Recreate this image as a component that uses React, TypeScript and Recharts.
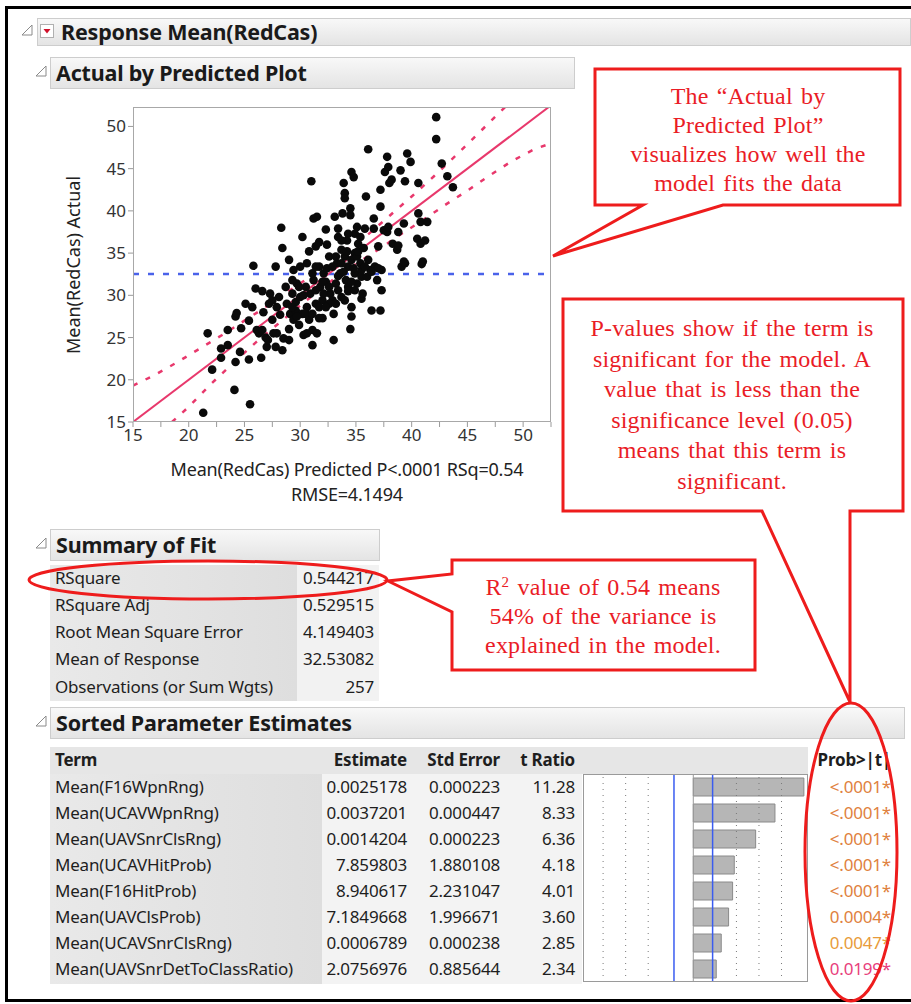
import React from 'react';
import { ScatterChart, Scatter, XAxis, YAxis, ReferenceLine, BarChart, Bar } from 'recharts';

const W = 911;
const H = 1004;
const UI = '"Noto Sans", "Open Sans", sans-serif';
const SERIF = '"Liberation Serif", "DejaVu Serif", serif';
const PINK = '#e8386c';
const BLUE = '#4a62ea';
const RED = '#ee1c1c';

// [predicted, actual]
const points: [number, number][] = [
  [21.3, 16.1], [21.7, 25.5], [22.1, 21.2], [22.9, 22.6], [22.9, 23.7], [23.5, 24.1], [23.5, 25.9], [24.1, 18.8],
  [24.2, 22.1], [24.2, 27.5], [24.3, 27.9], [24.6, 23.3], [24.7, 26.1], [25.1, 29.0], [25.4, 22.4], [25.5, 17.1],
  [25.4, 27.0], [25.8, 33.5], [25.7, 28.6], [26.0, 30.8], [26.1, 25.9], [26.3, 25.5], [26.5, 22.6], [26.6, 30.5],
  [26.7, 28.0], [26.9, 25.0], [27.0, 23.9], [27.2, 29.0], [27.3, 30.2], [27.5, 27.1], [27.6, 25.5], [27.8, 33.4],
  [27.8, 23.9], [27.9, 28.6], [28.1, 29.8], [28.2, 27.7], [28.3, 38.0], [28.4, 35.6], [28.4, 23.5], [28.5, 24.9],
  [28.7, 31.0], [28.8, 29.0], [29.0, 34.2], [29.0, 26.0], [29.1, 27.8], [29.3, 30.2], [29.4, 33.0], [29.4, 27.1],
  [29.6, 29.2], [29.6, 28.2], [29.7, 31.4], [29.9, 26.5], [30.0, 33.4], [30.0, 29.8], [30.2, 36.9], [30.2, 27.8],
  [30.3, 25.3], [30.5, 31.0], [30.6, 33.8], [30.6, 28.6], [30.8, 27.1], [30.8, 35.2], [30.9, 30.2], [31.0, 43.5],
  [31.1, 24.1], [31.1, 25.9], [31.2, 31.8], [31.2, 39.1], [31.4, 35.8], [31.4, 29.0], [31.5, 39.3], [31.5, 25.5],
  [31.7, 33.4], [31.7, 27.3], [31.7, 36.3], [31.8, 31.0], [32.0, 29.4], [32.0, 27.3], [32.1, 32.6], [32.3, 37.8],
  [32.3, 31.6], [32.4, 36.0], [32.6, 34.6], [32.7, 30.2], [32.9, 29.4], [33.0, 24.7], [33.0, 27.8], [33.1, 39.3],
  [33.2, 31.4], [33.3, 33.8], [33.4, 36.9], [33.4, 37.9], [33.6, 32.6], [33.7, 35.4], [33.7, 29.8], [33.8, 39.7],
  [33.9, 43.3], [34.0, 42.1], [34.0, 41.5], [34.0, 34.6], [34.1, 31.8], [34.2, 36.5], [34.3, 31.0], [34.3, 33.4],
  [34.5, 40.3], [34.5, 39.5], [34.5, 26.0], [34.6, 27.5], [34.6, 28.6], [34.6, 44.6], [34.8, 44.0], [34.9, 37.3],
  [34.9, 35.0], [34.9, 32.6], [35.1, 31.4], [35.1, 38.1], [35.2, 36.1], [35.4, 33.8], [35.5, 29.6], [35.5, 32.2],
  [35.6, 30.2], [35.8, 37.9], [35.9, 41.7], [36.1, 47.3], [36.1, 34.2], [36.3, 33.0], [36.4, 28.2], [36.6, 39.1],
  [36.6, 37.9], [36.7, 33.4], [36.9, 31.8], [37.2, 28.2], [37.2, 40.5], [37.2, 42.5], [37.3, 30.6], [37.3, 33.0],
  [37.5, 37.7], [37.6, 44.6], [37.8, 46.4], [37.8, 37.5], [37.9, 45.2], [38.0, 43.3], [38.2, 43.7], [38.3, 36.1],
  [38.7, 35.4], [38.8, 37.5], [39.0, 44.8], [39.1, 33.4], [39.3, 38.5], [39.4, 43.5], [39.4, 33.8], [39.6, 46.8],
  [39.9, 45.8], [40.5, 36.7], [40.6, 43.3], [40.6, 39.7], [40.8, 38.7], [40.8, 36.1], [40.9, 33.7], [41.2, 36.5],
  [41.4, 38.7], [42.2, 51.1], [42.2, 48.5], [42.7, 45.6], [43.2, 44.1], [43.7, 42.8],
  [29.3, 31.8], [29.9, 31.0], [30.3, 30.0], [31.1, 32.6], [31.4, 30.6], [32.0, 31.6], [32.4, 33.2], [32.6, 29.0],
  [33.2, 34.6], [33.4, 32.3], [33.7, 33.8], [33.9, 32.8], [34.2, 35.2], [34.3, 30.5], [34.6, 34.2], [34.8, 33.2],
  [35.1, 34.6], [35.2, 35.2], [35.4, 36.9], [35.5, 33.0], [35.7, 35.6], [35.8, 33.4], [36.0, 32.2], [26.6, 25.9],
  [27.1, 24.7], [27.5, 29.4], [27.9, 25.5], [29.0, 24.7], [29.3, 28.6], [29.7, 27.5], [30.5, 27.8], [30.6, 25.5],
  [31.1, 27.8], [31.4, 33.4], [31.7, 28.6], [32.1, 30.2], [32.3, 28.6], [32.6, 31.0], [32.9, 33.4], [33.2, 29.0],
  [33.4, 30.6], [33.7, 36.5], [34.0, 29.4], [34.3, 37.3], [34.6, 31.6], [34.9, 30.6], [37.0, 35.8], [37.0, 33.2],
  [36.4, 32.8], [37.9, 38.1], [38.8, 35.9], [41.0, 34.0], [39.3, 34.0],
];

const fitLine: [number, number][] = [[15, 15], [52.5, 52.5]];
const upperBand: [number, number][] = [
  [15, 19.3], [17, 20.6], [19, 22.1], [21, 23.7], [23, 25.3], [25, 27.0], [27, 28.7], [29, 30.5], [31, 32.3],
  [32.5, 33.6], [34, 35.1], [36, 37.1], [38, 39.4], [40, 41.7], [42, 44.1], [44, 46.6], [46, 49.2], [48, 51.8], [48.4, 52.3],
];
const lowerBand: [number, number][] = [
  [18.5, 15], [20, 16.8], [22, 19.5], [24, 22.0], [26, 24.4], [28, 26.6], [30, 28.8], [32, 30.9], [33.5, 32.4],
  [35, 33.7], [37, 35.4], [39, 37.2], [41, 38.9], [43, 40.7], [45, 42.4], [47, 44.2], [49, 45.9], [51, 47.3], [52.5, 48.0],
];
const responseMean = 32.53082;
const xTicks = [15, 17.5, 20, 22.5, 25, 27.5, 30, 32.5, 35, 37.5, 40, 42.5, 45, 47.5, 50, 52.5];
const yTicks = [15, 20, 25, 30, 35, 40, 45, 50];

const fitLabels = ['RSquare', 'RSquare Adj', 'Root Mean Square Error', 'Mean of Response', 'Observations (or Sum Wgts)'];
const fitValues = ['0.544217', '0.529515', '4.149403', '32.53082', '257'];

const terms = [
  'Mean(F16WpnRng)', 'Mean(UCAVWpnRng)', 'Mean(UAVSnrClsRng)', 'Mean(UCAVHitProb)',
  'Mean(F16HitProb)', 'Mean(UAVClsProb)', 'Mean(UCAVSnrClsRng)', 'Mean(UAVSnrDetToClassRatio)',
];
const estimates = ['0.0025178', '0.0037201', '0.0014204', '7.859803', '8.940617', '7.1849668', '0.0006789', '2.0756976'];
const stdErrors = ['0.000223', '0.000447', '0.000223', '1.880108', '2.231047', '1.996671', '0.000238', '0.885644'];
const tRatios = [11.28, 8.33, 6.36, 4.18, 4.01, 3.6, 2.85, 2.34];
const probs = ['<.0001*', '<.0001*', '<.0001*', '<.0001*', '<.0001*', '0.0004*', '0.0047*', '0.0199*'];
const tCritical = 1.97;
const tGrid = [-9.2, -6.9, -4.6, 4.4, 6.7, 9.0];

const toXY = (arr: [number, number][]) => arr.map(([x, y]) => ({ x, y }));
const tData = terms.map((term, i) => ({ term, t: tRatios[i] }));

const probColor = (p: string) => {
  const v = parseFloat(p.replace('<', '0').replace('*', ''));
  if (v < 0.001) return '#e0813e';
  if (v < 0.01) return '#e89b3a';
  return '#e8407c';
};

type TxtProps = { x: number; y: number; text: React.ReactNode; anchor?: 'start' | 'middle' | 'end'; size?: number; weight?: number; color?: string; family?: string; extra?: React.CSSProperties };
const Txt = ({ x, y, text, anchor = 'start', size = 17, weight = 400, color = '#1e1e1e', family = UI, extra }: TxtProps) => {
  const style: React.CSSProperties = {
    position: 'absolute', top: y - size * 0.7, fontSize: size, fontWeight: weight, color, fontFamily: family,
    lineHeight: `${size * 1.4}px`, whiteSpace: 'nowrap', letterSpacing: '-0.2px', ...extra,
  };
  if (anchor === 'end') style.right = W - x;
  else if (anchor === 'middle') { style.left = x; style.transform = 'translateX(-50%)'; }
  else style.left = x;
  return <div style={style}>{text}</div>;
};

const Disclosure = ({ x, y }: { x: number; y: number }) => (
  <svg style={{ position: 'absolute', left: x, top: y - 6 }} width={12} height={12}>
    <path d="M1,11 L11,11 L11,1 Z" fill="none" stroke="#8a8a8a" strokeWidth={1} />
  </svg>
);

const Header = ({ x, y, w, h, title }: { x: number; y: number; w: number; h: number; title: string }) => (
  <>
    <div style={{ position: 'absolute', left: x, top: y, width: w, height: h, boxSizing: 'border-box', border: '1px solid #cdcdcd', background: 'linear-gradient(#f8f8f8, #e4e4e4)' }} />
    <Disclosure x={x - 15} y={y + h / 2 - 2} />
    <Txt x={x + 6} y={y + h / 2} text={title} size={21.5} weight={700} color="#1a1a1a" />
  </>
);

const Dot = (props: any) => <circle cx={props.cx} cy={props.cy} r={4.3} fill="#0a0a0a" />;
const NoDot = () => <g />;

const CalloutText = ({ cx, lines, top, step }: { cx: number; lines: React.ReactNode[]; top: number; step: number }) => (
  <>
    {lines.map((l, i) => (
      <Txt key={i} x={cx} y={top + i * step} text={l} anchor="middle" size={24} family={SERIF} color="#ea1c26" extra={{ wordSpacing: '2px', letterSpacing: '0.2px' }} />
    ))}
  </>
);

const fitRowY = [578, 605, 632, 659, 687];
const paramRowY = [787, 813, 839, 865, 891, 917, 943, 969];

export default function App() {
  return (
    <div style={{ position: 'absolute', left: 0, top: 0, width: W, height: H, background: '#fff', overflow: 'hidden', fontFamily: UI }}>
      {/* outer frame */}
      <div style={{ position: 'absolute', left: 5, top: 6, width: W, height: H - 8, boxSizing: 'border-box', borderLeft: '3px solid #000', borderTop: '3px solid #000', borderBottom: '3px solid #000' }} />

      {/* top header */}
      <div style={{ position: 'absolute', left: 37, top: 18, width: W - 37, height: 28, boxSizing: 'border-box', border: '1px solid #cdcdcd', background: 'linear-gradient(#f8f8f8, #e4e4e4)' }} />
      <Disclosure x={21} y={30} />
      <div style={{ position: 'absolute', left: 40, top: 24, width: 14, height: 14, boxSizing: 'border-box', border: '1px solid #b0b0b0', background: '#fff' }}>
        <svg width={12} height={12} style={{ position: 'absolute', left: 0, top: 0 }}>
          <path d="M2.5,4 L9.5,4 L6,8.5 Z" fill="#d0102a" />
        </svg>
      </div>
      <Txt x={61} y={32} text="Response Mean(RedCas)" size={21.5} weight={700} color="#1a1a1a" />

      {/* Actual by Predicted */}
      <Header x={50} y={57} w={525} h={32} title="Actual by Predicted Plot" />
      <div style={{ position: 'absolute', left: 50, top: 95 }}>
        <ScatterChart width={520} height={360} margin={{ top: 12, right: 19, bottom: 3, left: 0 }}>
          <XAxis type="number" dataKey="x" domain={[15, 52.5]} allowDataOverflow ticks={xTicks} interval={0}
            tickFormatter={(v: number) => (v % 5 === 0 ? String(v) : '')} axisLine={false} tickSize={5}
            tickLine={{ stroke: '#9a9a9a' }} tick={{ fontSize: 17, fill: '#333', fontFamily: UI }} height={30} />
          <YAxis type="number" dataKey="y" domain={[15, 52.3]} allowDataOverflow ticks={yTicks} interval={0}
            axisLine={false} tickSize={5} tickLine={{ stroke: '#9a9a9a' }} width={83}
            tick={{ fontSize: 17, fill: '#333', fontFamily: UI }} />
          <ReferenceLine y={responseMean} stroke={BLUE} strokeWidth={2.5} strokeDasharray="6 9" />
          <Scatter data={toXY(upperBand)} line={{ stroke: PINK, strokeWidth: 2.5, strokeDasharray: '5 9' }} lineType="joint" shape={NoDot} isAnimationActive={false} />
          <Scatter data={toXY(lowerBand)} line={{ stroke: PINK, strokeWidth: 2.5, strokeDasharray: '5 9' }} lineType="joint" shape={NoDot} isAnimationActive={false} />
          <Scatter data={toXY(fitLine)} line={{ stroke: PINK, strokeWidth: 2 }} lineType="joint" shape={NoDot} isAnimationActive={false} />
          <Scatter data={toXY(points)} shape={Dot} isAnimationActive={false} />
        </ScatterChart>
      </div>
      <div style={{ position: 'absolute', left: 133, top: 107, width: 418, height: 315, boxSizing: 'border-box', border: '1px solid #a8a8a8', pointerEvents: 'none' }} />
      <Txt x={347} y={470} text="Mean(RedCas) Predicted P<.0001 RSq=0.54" anchor="middle" size={18} color="#222" />
      <Txt x={347} y={495} text="RMSE=4.1494" anchor="middle" size={18} color="#222" />
      <div style={{ position: 'absolute', left: 73, top: 265, transform: 'translate(-50%, -50%) rotate(-90deg)', fontSize: 18, color: '#222', whiteSpace: 'nowrap', fontFamily: UI }}>
        Mean(RedCas) Actual
      </div>

      {/* Summary of Fit */}
      <Header x={50} y={529} w={330} h={32} title="Summary of Fit" />
      <div style={{ position: 'absolute', left: 50, top: 565, width: 247, height: 136, background: 'linear-gradient(90deg, #e9e9e9, #dedede)' }} />
      <div style={{ position: 'absolute', left: 297, top: 565, width: 82, height: 136, background: '#f2f2f2' }} />
      {fitLabels.map((l, i) => (
        <Txt key={l} x={55} y={fitRowY[i]} text={l} />
      ))}
      {fitValues.map((v, i) => (
        <Txt key={i} x={374} y={fitRowY[i]} text={v} anchor="end" />
      ))}

      {/* Sorted Parameter Estimates */}
      <Header x={50} y={707} w={855} h={32} title="Sorted Parameter Estimates" />
      <div style={{ position: 'absolute', left: 50, top: 747, width: 758, height: 27, background: '#e6e6e6' }} />
      <div style={{ position: 'absolute', left: 50, top: 774, width: 272, height: 210, background: 'linear-gradient(90deg, #e9e9e9, #dedede)' }} />
      <div style={{ position: 'absolute', left: 322, top: 774, width: 260, height: 210, background: '#f3f3f3' }} />
      <Txt x={55} y={760} text="Term" weight={700} />
      <Txt x={407} y={760} text="Estimate" weight={700} anchor="end" />
      <Txt x={500} y={760} text="Std Error" weight={700} anchor="end" />
      <Txt x={575} y={760} text="t Ratio" weight={700} anchor="end" />
      <Txt x={891} y={760} text="Prob>|t|" weight={700} anchor="end" />
      {terms.map((t, i) => (
        <React.Fragment key={t}>
          <Txt x={55} y={paramRowY[i]} text={t} />
          <Txt x={407} y={paramRowY[i]} text={estimates[i]} anchor="end" />
          <Txt x={500} y={paramRowY[i]} text={stdErrors[i]} anchor="end" />
          <Txt x={575} y={paramRowY[i]} text={tRatios[i].toFixed(2)} anchor="end" />
          <Txt x={891} y={paramRowY[i]} text={probs[i]} anchor="end" color={probColor(probs[i])} />
        </React.Fragment>
      ))}
      <div style={{ position: 'absolute', left: 583, top: 774, background: '#fff' }}>
        <BarChart width={225} height={208} data={tData} layout="vertical" margin={{ top: 0, right: 0, bottom: 0, left: 0 }} barCategoryGap={4}>
          <XAxis type="number" domain={[-11.25, 11.7]} allowDataOverflow hide />
          <YAxis type="category" dataKey="term" hide />
          {tGrid.map((v) => (
            <ReferenceLine key={v} x={v} stroke="#7a7a7a" strokeDasharray="1 5" />
          ))}
          <ReferenceLine x={0} stroke="#9a9a9a" />
          <Bar dataKey="t" fill="#b6b6b6" stroke="#8a8a8a" isAnimationActive={false} />
          <ReferenceLine x={-tCritical} stroke="#3a5cf0" strokeWidth={1.5} />
          <ReferenceLine x={tCritical} stroke="#3a5cf0" strokeWidth={1.5} />
        </BarChart>
      </div>
      <div style={{ position: 'absolute', left: 583, top: 774, width: 225, height: 208, boxSizing: 'border-box', border: '1px solid #9a9a9a', pointerEvents: 'none' }} />

      {/* callouts */}
      <svg style={{ position: 'absolute', left: 0, top: 0 }} width={W} height={H}>
        <path d="M595,69 H900 V205 H723 L553,256 L643,205 H595 Z" fill="#fff" stroke={RED} strokeWidth={3} strokeLinejoin="miter" />
        <path d="M563,299 H903 V511 H850 L850,702 L762,511 H563 Z" fill="#fff" stroke={RED} strokeWidth={3} />
        <path d="M452,560 H755 V670 H452 V612 L388,581 L452,574 Z" fill="#fff" stroke={RED} strokeWidth={3} />
        <ellipse cx={208} cy={580} rx={179} ry={19} fill="none" stroke={RED} strokeWidth={3} />
        <ellipse cx={851} cy={852} rx={46} ry={149} fill="none" stroke={RED} strokeWidth={3} />
      </svg>
      <CalloutText cx={748} top={97} step={29} lines={['The “Actual by', 'Predicted Plot”', 'visualizes  how well the', 'model fits the data']} />
      <CalloutText cx={732} top={329} step={30.5} lines={['P-values  show if the term is', 'significant  for the model. A', 'value  that is less  than the', 'significance  level  (0.05)', 'means  that this term  is', 'significant.']} />
      <CalloutText cx={603} top={588} step={29} lines={[<span key="r">R<sup style={{ fontSize: 15, verticalAlign: '8px', lineHeight: 0 }}>2</sup> value of 0.54 means</span>, '54% of the variance is', 'explained in the model.']} />
    </div>
  );
}
